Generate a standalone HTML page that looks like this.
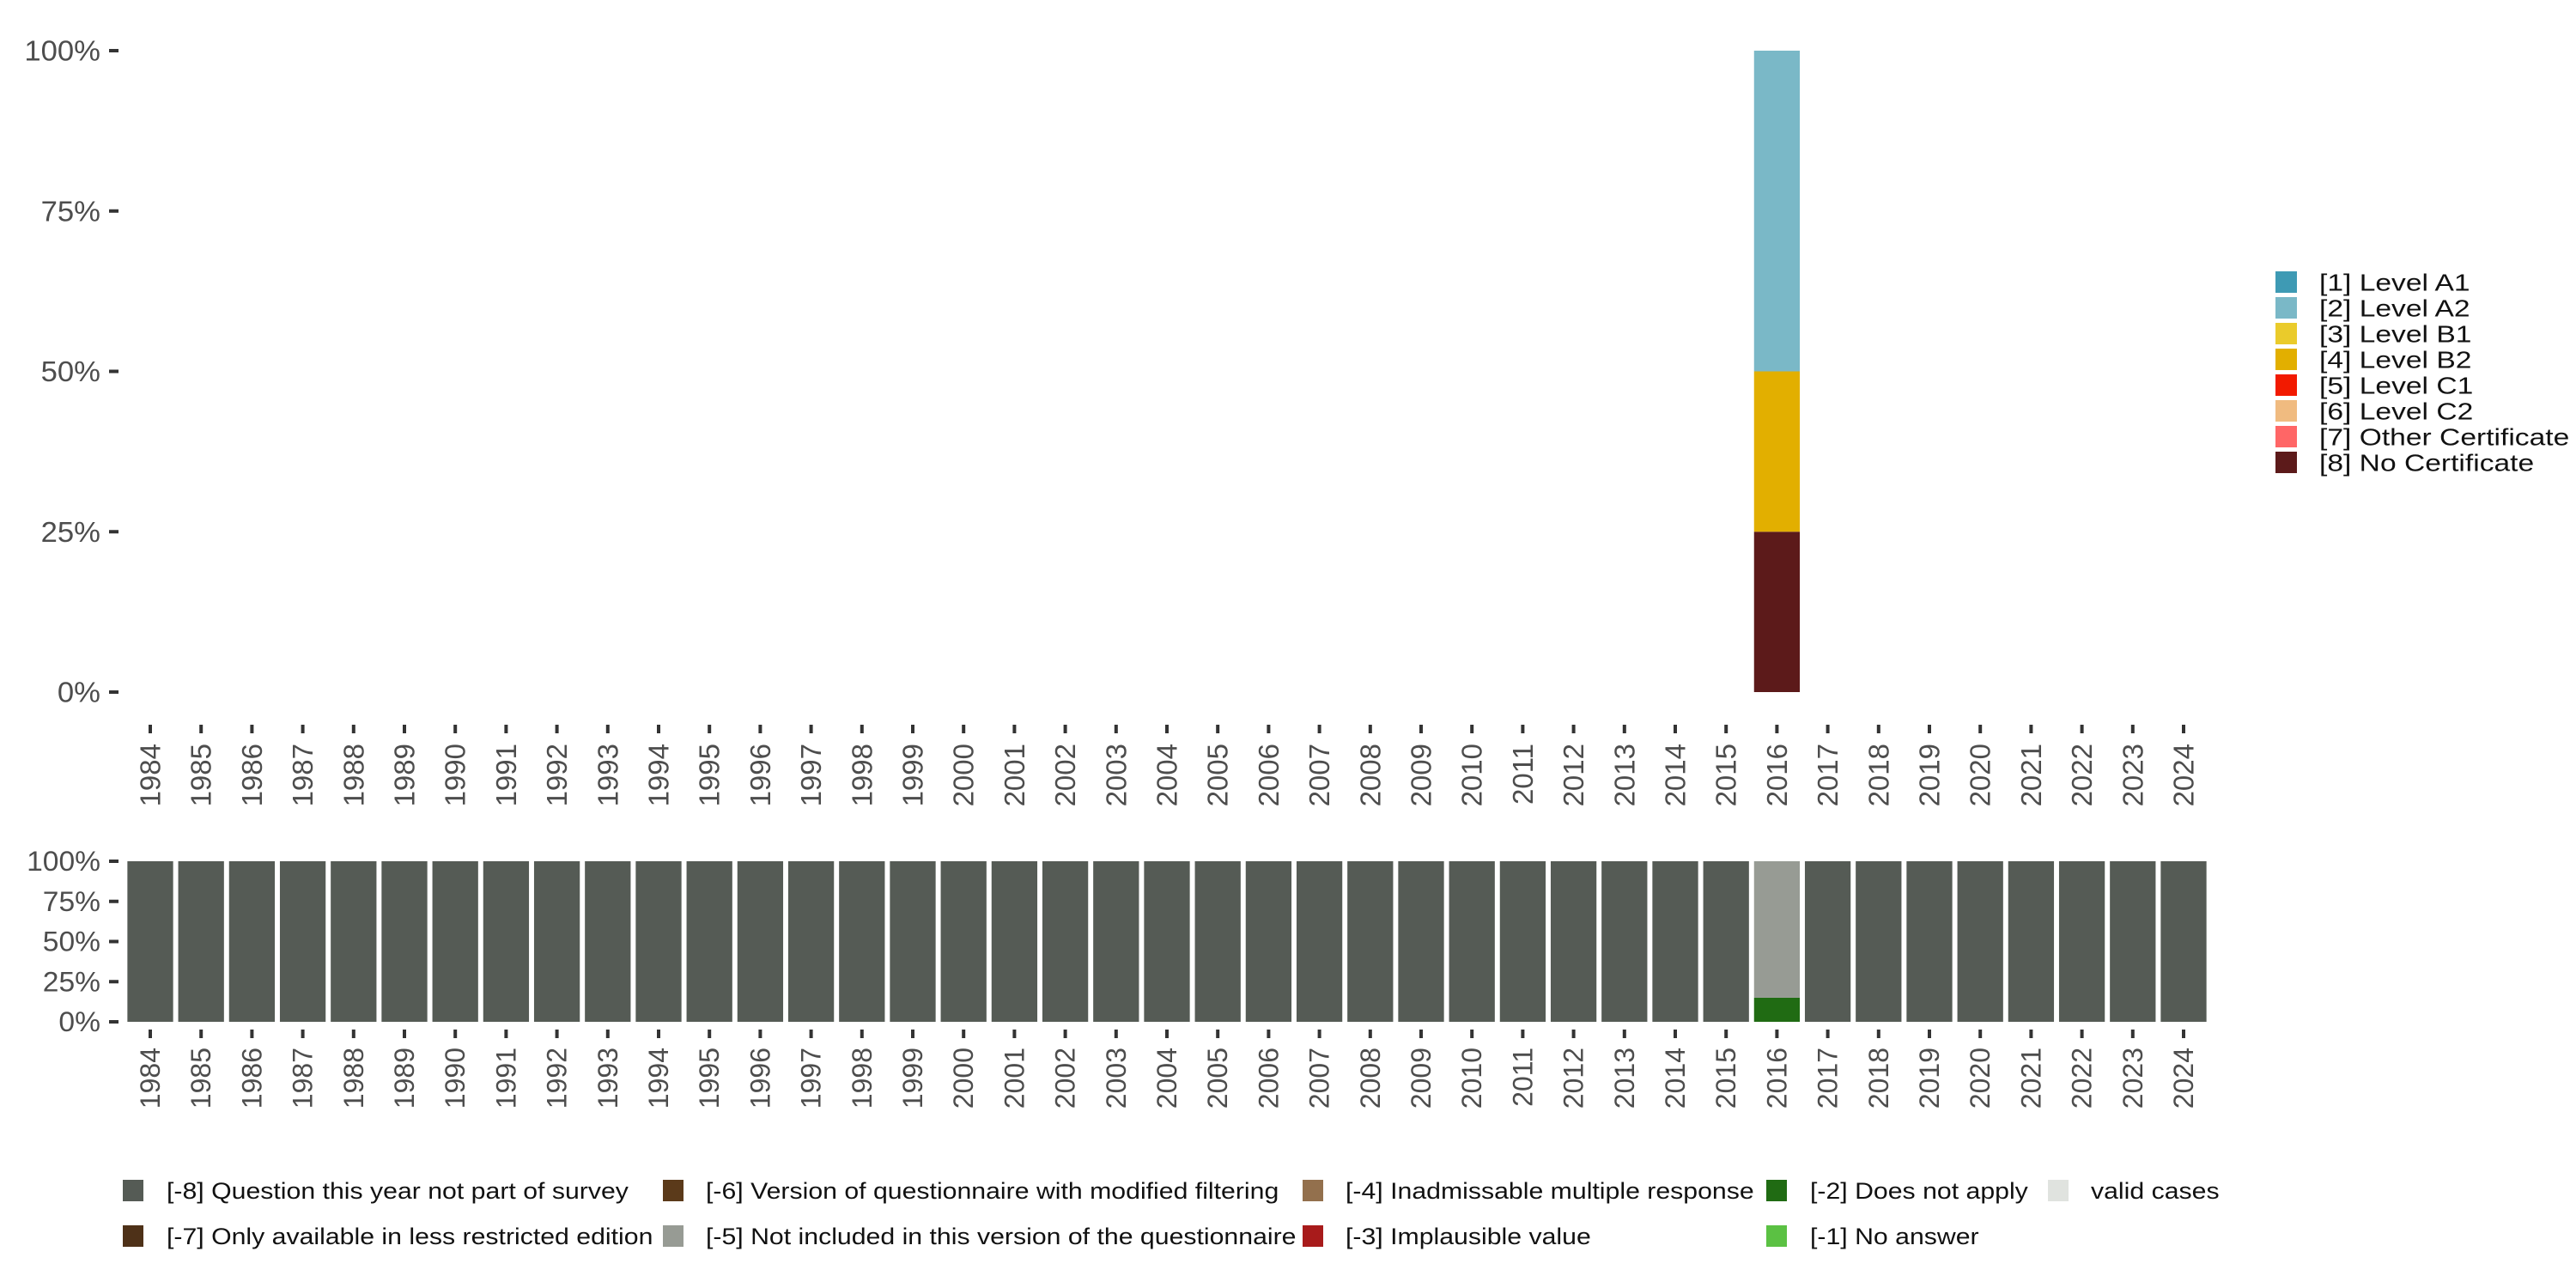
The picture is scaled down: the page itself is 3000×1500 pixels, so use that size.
<!DOCTYPE html>
<html><head><meta charset="utf-8"><style>
html,body{margin:0;padding:0;background:#fff;}
svg{display:block;font-family:"Liberation Sans",sans-serif;}
</style></head><body>
<svg id="chart" width="3000" height="1500" viewBox="0 0 3000 1500" xmlns="http://www.w3.org/2000/svg">
<g id="top"></g>
<g id="bot"></g>
<g id="leg1"></g>
<g id="leg2"></g>
</svg>
<script>
const years = [];
for (let y = 1984; y <= 2024; y++) years.push(y);
const levelNames = ["[1] Level A1","[2] Level A2","[3] Level B1","[4] Level B2","[5] Level C1","[6] Level C2","[7] Other Certificate","[8] No Certificate"];
const levelColors = ["#3e9ab4","#7ab8c7","#eacb2b","#e2af00","#f21a00","#f0bb80","#ff6666","#5c1a1a"];
const topYears = [2016];
const topA1 = [0];
const topA2 = [50];
const topB1 = [0];
const topB2 = [25];
const topC1 = [0];
const topC2 = [0];
const topOther = [0];
const topNoCert = [25];
const missNames = ["[-8] Question this year not part of survey","[-7] Only available in less restricted edition","[-6] Version of questionnaire with modified filtering","[-5] Not included in this version of the questionnaire","[-4] Inadmissable multiple response","[-3] Implausible value","[-2] Does not apply","[-1] No answer","valid cases"];
const missColors = ["#555b55","#4e3118","#5b3a1a","#979b94","#93704d","#a81b1b","#206b13","#5bc143","#e0e3df"];
const botM8 = years.map(y => y === 2016 ? 0 : 100);
const botM5 = years.map(y => y === 2016 ? 85 : 0);
const botM2 = years.map(y => y === 2016 ? 15 : 0);
const yTicks = [0,25,50,75,100];
const yTickLabels = ["0%","25%","50%","75%","100%"];

const NS = "http://www.w3.org/2000/svg";
function mk(tag, attrs, parent, text){
  const e = document.createElementNS(NS, tag);
  for (const k in attrs) e.setAttribute(k, attrs[k]);
  if (text !== undefined) e.textContent = text;
  parent.appendChild(e);
  return e;
}
function stretch(t, f){
  const w = t.getComputedTextLength();
  t.setAttribute("textLength", (w * f).toFixed(1));
  t.setAttribute("lengthAdjust", "spacingAndGlyphs");
}
const x0 = 175, step = (2543 - 175) / 40, bw = step * 0.9;
const xOf = y => x0 + (y - 1984) * step;

function panel(g, top, bottom, fs, labY, tickY1, name){
  const yOf = v => bottom - (bottom - top) * v / 100;
  yTicks.forEach((t, i) => {
    const tk = mk("rect", {x:127, y:yOf(t)-2, width:11, height:4, fill:"#333"}, g);
    
    
    const tl = mk("text", {x:117, y:yOf(t), "font-size":fs, fill:"#4d4d4d", "text-anchor":"end", "dominant-baseline":"central"}, g, yTickLabels[i]);
    
    
    stretch(tl, 1.05);
  });
  years.forEach(y => {
    const x = xOf(y);
    const tk = mk("rect", {x:x-2, y:tickY1, width:4, height:10, fill:"#333"}, g);
    
    
    const tl = mk("text", {x:0, y:0, "font-size":fs, fill:"#4d4d4d", "text-anchor":"end", "dominant-baseline":"central", transform:`translate(${x},${labY}) rotate(-90)`}, g, String(y));
    
    
  });
  return yOf;
}
function stack(g, yOf, x, series, colors, name){
  let acc = 0;
  series.forEach((v, i) => {
    if (v <= 0) return;
    const r = mk("rect", {x:x-bw/2, y:yOf(acc+v), width:bw, height:yOf(acc)-yOf(acc+v), fill:colors[i]}, g);
    
    
    acc += v;
  });
}
const gTop = document.getElementById("top");
const yTop = panel(gTop, 59, 806, 33, 866, 844, "top");
topYears.forEach((y, i) => {
  stack(gTop, yTop, xOf(y), [topNoCert[i], topOther[i], topC2[i], topC1[i], topB2[i], topB1[i], topA2[i], topA1[i]],
    ["#5c1a1a","#ff6666","#f0bb80","#f21a00","#e2af00","#eacb2b","#7ab8c7","#3e9ab4"], "level-bar-" + y);
});
const gBot = document.getElementById("bot");
const yBot = panel(gBot, 1003, 1190, 32, 1220, 1199, "bottom");
years.forEach((y, i) => {
  stack(gBot, yBot, xOf(y), [botM2[i], botM5[i], botM8[i]], ["#206b13","#979b94","#555b55"], "missing-bar-" + y);
});
const l1 = document.getElementById("leg1");
levelNames.forEach((n, i) => {
  const yy = 316 + i * 30;
  const r = mk("rect", {x:2650, y:yy, width:25, height:25, fill:levelColors[i]}, l1);
  
  
  const t = mk("text", {x:2701, y:yy+13, "font-size":28, fill:"#111", "dominant-baseline":"central"}, l1, n);
  
  
  stretch(t, 1.2);
});
const l2 = document.getElementById("leg2");
const colSq = [143, 772, 1517, 2057, 2385];
const colTx = [194, 822, 1567, 2108, 2435];
missNames.forEach((n, i) => {
  const c = Math.floor(i / 2), row = i % 2;
  const yy = row === 0 ? 1374 : 1427;
  const r = mk("rect", {x:colSq[c], y:yy, width:24, height:25, fill:missColors[i]}, l2);
  
  
  const t = mk("text", {x:colTx[c], y:yy+13, "font-size":27, fill:"#111", "dominant-baseline":"central"}, l2, n);
  
  
  stretch(t, 1.12);
});
</script>
</body></html>
